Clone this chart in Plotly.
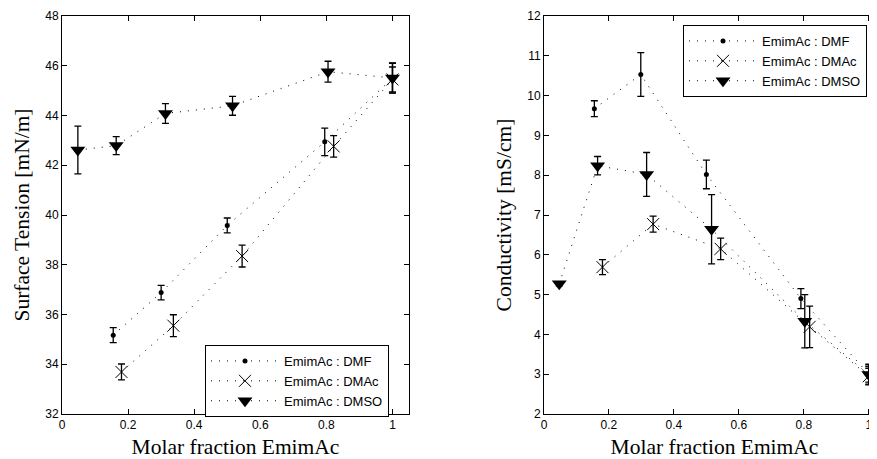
import plotly.graph_objects as go

# ---------------- data ----------------
series_names = ["EmimAc : DMF", "EmimAc : DMAc", "EmimAc : DMSO"]

# Surface tension [mN/m]
st_dmf_x = [0.155, 0.30, 0.50, 0.795, 1.0]
st_dmf_y = [35.17, 36.88, 39.58, 42.94, 45.50]
st_dmf_e = [0.30, 0.29, 0.30, 0.55, 0.60]

st_dmac_x = [0.18, 0.337, 0.545, 0.822, 1.0]
st_dmac_y = [33.69, 35.55, 38.35, 42.76, 45.45]
st_dmac_e = [0.32, 0.44, 0.44, 0.43, 0.50]

st_dmso_x = [0.048, 0.164, 0.313, 0.516, 0.805, 1.0]
st_dmso_y = [42.61, 42.79, 44.08, 44.39, 45.76, 45.51]
st_dmso_e = [0.96, 0.36, 0.40, 0.38, 0.42, 0.60]

# Conductivity [mS/cm]
co_dmf_x = [0.155, 0.298, 0.50, 0.791, 1.0]
co_dmf_y = [9.67, 10.53, 8.02, 4.90, 3.00]
co_dmf_e = [0.20, 0.55, 0.36, 0.25, 0.20]

co_dmac_x = [0.18, 0.336, 0.544, 0.818, 1.0]
co_dmac_y = [5.69, 6.77, 6.15, 4.19, 2.95]
co_dmac_e = [0.19, 0.20, 0.27, 0.52, 0.20]

co_dmso_x = [0.047, 0.165, 0.316, 0.516, 0.803, 1.0]
co_dmso_y = [5.27, 8.24, 8.02, 6.64, 4.33, 2.99]
co_dmso_e = [0.05, 0.23, 0.55, 0.87, 0.67, 0.26]

x_ticks = [0, 0.2, 0.4, 0.6, 0.8, 1.0]
x_ticktext = ["0", "0.2", "0.4", "0.6", "0.8", "1"]
st_ticks = [32, 34, 36, 38, 40, 42, 44, 46, 48]
co_ticks = [2, 3, 4, 5, 6, 7, 8, 9, 10, 11, 12]

# ---------------- styles ----------------
W, H = 877, 467
OFF = 8  # the page body adds an 8px margin; place things in screenshot coordinates
BLACK = "#000000"
DOT = "1px,7px"
markers = [
    dict(symbol="circle", size=5, color=BLACK),
    dict(symbol="x-thin-open", size=12, color=BLACK, line=dict(width=1, color=BLACK)),
    dict(symbol="triangle-down", size=13, color=BLACK),
]

def fx(px):
    return (px - OFF) / W

def fy(py):
    return 1 - (py - OFF) / H

fig = go.Figure()

def add(xs, ys, es, k, xa, ya, leg):
    fig.add_trace(go.Scatter(
        x=xs, y=ys, mode="lines+markers", name=series_names[k],
        line=dict(color=BLACK, width=1, dash=DOT),
        marker=markers[k],
        error_y=dict(type="data", array=es, visible=True, color=BLACK,
                     thickness=1.3, width=3.5),
        xaxis=xa, yaxis=ya, legend=leg,
    ))

add(st_dmf_x, st_dmf_y, st_dmf_e, 0, "x", "y", "legend")
add(st_dmac_x, st_dmac_y, st_dmac_e, 1, "x", "y", "legend")
add(st_dmso_x, st_dmso_y, st_dmso_e, 2, "x", "y", "legend")
add(co_dmf_x, co_dmf_y, co_dmf_e, 0, "x2", "y2", "legend2")
add(co_dmac_x, co_dmac_y, co_dmac_e, 1, "x2", "y2", "legend2")
add(co_dmso_x, co_dmso_y, co_dmso_e, 2, "x2", "y2", "legend2")

tickfont = dict(family="Liberation Sans, Arial, sans-serif", size=12, color=BLACK)
titlefont = dict(family="Liberation Serif, Times New Roman, serif", size=21.5, color=BLACK)

axis_common = dict(showline=True, linecolor=BLACK, linewidth=1, ticks="inside",
                   ticklen=5, tickwidth=1, tickcolor=BLACK, showgrid=False,
                   zeroline=False, tickfont=tickfont, automargin=False)

ydom = [fy(414), fy(16)]
leg_common = dict(bgcolor="white", bordercolor=BLACK, borderwidth=1,
                  font=dict(family="Liberation Sans, Arial, sans-serif", size=13, color=BLACK),
                  itemwidth=68, tracegroupgap=0, xanchor="left", yanchor="top")

fig.update_layout(
    width=W, height=H,
    margin=dict(l=0, r=0, t=0, b=0),
    paper_bgcolor="white", plot_bgcolor="white",
    xaxis=dict(domain=[fx(62), fx(409)], range=[0, 1.05], tickvals=x_ticks,
               ticktext=x_ticktext, mirror="ticks", anchor="y",
               title=dict(text="Molar fraction EmimAc", font=titlefont, standoff=7),
               **axis_common),
    yaxis=dict(domain=ydom, range=[32, 48], tickvals=st_ticks, mirror="ticks", anchor="x",
               title=dict(text="Surface Tension [mN/m]", font=titlefont, standoff=9),
               **axis_common),
    xaxis2=dict(domain=[fx(544), 1.0], range=[0, 1.05], tickvals=x_ticks,
                ticktext=x_ticktext, mirror="ticks", anchor="y2",
                title=dict(text="Molar fraction EmimAc", font=titlefont, standoff=7),
                **axis_common),
    yaxis2=dict(domain=ydom, range=[2, 12], tickvals=co_ticks, mirror="ticks", anchor="x2",
                title=dict(text="Conductivity [mS/cm]", font=titlefont, standoff=9),
                **axis_common),
    legend=dict(x=fx(205), y=fy(345), **leg_common),
    legend2=dict(x=fx(683), y=fy(25), **leg_common),
)

fig.write_html("out.html")
